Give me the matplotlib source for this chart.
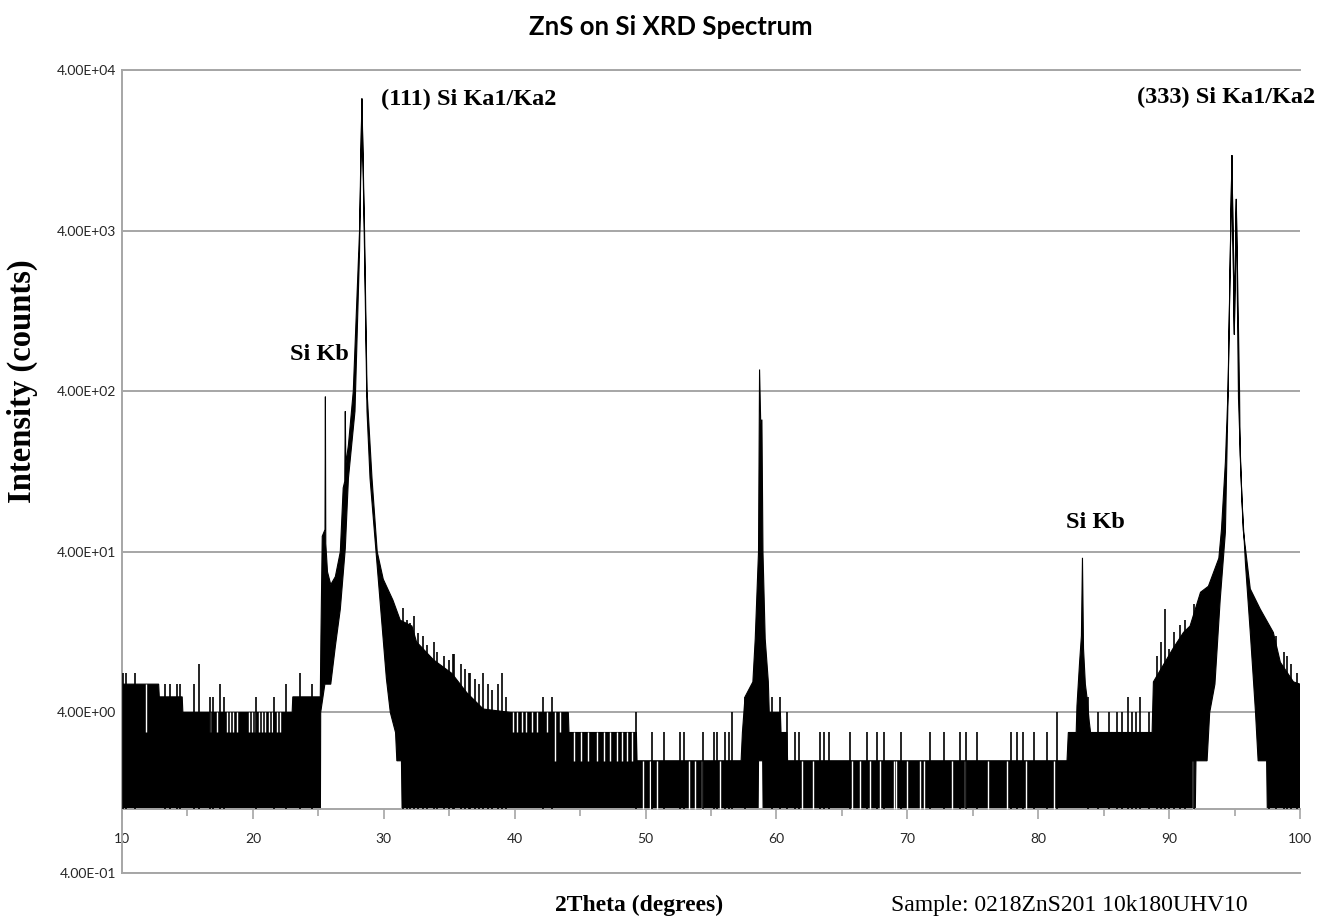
"""Recreate the ZnS on Si XRD spectrum (log intensity against 2theta)."""
import matplotlib

matplotlib.use("Agg")
import matplotlib.pyplot as plt
import numpy as np

SANS = ["Lato", "DejaVu Sans"]
SERIF = ["Liberation Serif", "DejaVu Serif"]
GRID = "#a6a6a6"

# upper envelope of the noisy trace (2theta in degrees, counts)
HI_X = [10.0, 12.8, 12.85, 14.6, 14.65, 23.0, 23.05, 25.15, 25.2, 25.3, 25.51,
        25.54, 25.57, 25.7, 25.95, 26.3, 26.68, 26.9, 27.02, 27.06, 27.1, 27.3,
        27.67, 28.15, 28.33, 28.53, 28.72, 29.1, 29.5, 29.96, 30.7, 31.26, 32.15,
        32.5, 33.8, 35.2, 36.35, 37.6, 39.7, 44.1, 44.15, 49.3, 49.35, 57.3,
        57.4, 57.6, 58.2, 58.38, 58.63, 58.71, 58.8, 58.89, 58.97, 59.14, 59.38,
        59.45, 60.3, 60.35, 60.8, 60.85, 82.2, 82.3, 82.9, 82.96, 83.16, 83.3,
        83.38, 83.46, 83.6, 83.72, 83.9, 84.0, 88.7, 88.8, 89.6, 90.3, 91.1,
        91.6, 92.4, 93.0, 93.8, 94.0, 94.3, 94.5, 94.8, 94.98, 95.13, 95.38,
        95.43, 95.66, 96.2, 96.96, 97.96, 98.5, 99.5, 100.0]
HI_Y = [6, 6, 5, 5, 4, 4, 5, 5, 12, 50, 55,
        370, 45, 30, 25, 28, 40, 100, 110, 300, 140, 185,
        400, 4000, 26600, 4000, 400, 115, 40, 27, 20, 15, 13.8,
        11, 8.5, 7, 5.3, 4.2, 4, 4, 3, 3, 2, 2,
        3, 5, 6.2, 11.5, 40, 546, 250, 266, 40, 11.5, 6.2,
        4, 4, 3, 3, 2, 2, 3, 3, 4.4, 8.2, 12,
        36.7, 10, 6, 5, 3.5, 3, 3, 6.2, 8, 10, 12.6,
        13.8, 22.4, 24.4, 36.5, 55, 145, 400, 11800, 900, 6300, 400,
        160, 55, 23.5, 17.6, 12.6, 8.2, 6.2, 6]

# lower envelope of the noisy trace
LO_X = [10.0, 25.16, 25.18, 25.5, 25.95, 26.3, 26.68, 27.06, 27.3, 27.8, 28.15,
        28.33, 28.53, 28.72, 28.95, 30.2, 30.5, 30.9, 31.0, 31.35, 31.4, 58.6,
        58.63, 58.95, 58.98, 92.0, 92.05, 92.9, 93.1, 93.5, 93.9, 94.3, 94.5,
        94.8, 94.98, 95.13, 95.3, 95.56, 95.84, 96.2, 96.45, 96.6, 96.8, 97.45,
        97.5, 100.0]
LO_Y = [1, 1, 4, 6, 6, 10.3, 17.6, 42, 115, 300, 3000,
        26600, 3000, 300, 115, 6.5, 4, 3, 2, 2, 1, 1,
        2, 2, 1, 1, 2, 2, 4, 6, 20, 53, 360,
        11800, 900, 6300, 360, 86, 33, 12.6, 6.2, 4, 2, 2,
        1, 1]

# single-channel spikes standing above the envelope
SPIKE_X = [10.1, 10.3, 11.0, 13.3, 13.7, 14.2, 14.45, 15.47, 15.85, 16.7, 16.95,
           17.45, 17.76, 20.2, 21.6, 22.5, 23.57, 24.5,
           31.5, 31.8, 32.0, 32.3, 32.6, 33.0, 33.3, 33.8,
           34.1, 34.6, 35.0, 35.3, 35.4, 35.9, 36.2, 36.5, 36.6, 37.0, 37.3,
           37.6, 38.0, 38.3, 38.7, 39.0, 39.3, 42.2, 42.85,
           49.27, 50.5, 51.4, 52.65, 52.9, 54.4, 55.2, 55.45, 56.1, 56.35, 56.6,
           57.6,
           59.66, 60.3, 60.8, 61.4, 61.7, 63.35, 63.6, 64.0, 65.6, 66.9, 67.7,
           68.2, 69.5, 71.7, 72.8, 74.05, 74.5, 75.3, 77.9, 78.4, 78.8, 79.7,
           80.7, 81.4,
           83.8, 84.6, 85.4, 86.05, 86.4, 86.85, 87.2, 87.5, 87.74, 88.5,
           89.1, 89.4, 89.7, 90.0, 90.4, 90.8, 91.2, 91.9,
           97.6, 98.2, 98.8, 99.0, 99.3, 99.8]
SPIKE_Y = [7, 7, 7, 6, 6, 6, 6, 6, 8, 5, 5,
           6, 5, 5, 5, 6, 7, 6,
           18, 15, 14.5, 16, 12.5, 12, 10.5, 11,
           9.5, 9, 8.5, 9.3, 9.3, 8, 7.5, 7, 7, 6.5, 6,
           7, 6, 5.5, 6, 7, 5, 5, 5,
           4, 3, 3, 3, 3, 3, 3, 3, 3, 3, 4,
           5,
           5, 5, 4, 3, 3, 3, 3, 3, 3, 3, 3,
           3, 3, 3, 3, 3, 3, 3, 3, 3, 3, 3,
           3, 4,
           5, 4, 4, 4, 4, 5, 4, 4, 5, 4,
           9, 11, 17.6, 10, 12.6, 14, 15, 19,
           14, 12, 9.5, 9, 8, 7]

# channels where the trace dips below the envelope (white notches)
GAP_X = [11.8, 16.75, 17.25, 18.02, 18.27, 18.5, 18.78, 19.67, 19.93, 20.18,
         20.43, 20.69, 20.95, 21.2, 21.46, 21.84, 22.1,
         39.9, 40.2, 40.55, 40.9, 41.3, 41.7, 42.5, 43.1, 43.5,
         44.5, 45.1, 45.6, 46.3, 46.8, 47.25, 47.8, 48.2, 48.6, 48.96,
         49.8, 50.35, 50.9, 53.3, 53.8, 54.3, 55.7,
         61.95, 62.8, 65.8, 66.4, 67.15, 67.9, 68.95, 69.1, 70.0, 71.0, 71.25,
         73.4, 74.4, 76.2, 77.6, 79.1, 81.2, 91.8]
GAP_LO = [3, 3, 3, 3, 3, 3, 3, 3, 3, 3,
          3, 3, 3, 3, 3, 3, 3,
          3, 3, 3, 3, 3, 3, 3, 2, 3,
          2, 2, 2, 2, 2, 2, 2, 2, 2, 2,
          1, 1, 1, 1, 1, 1, 1,
          1, 1, 1, 1, 1, 1, 1, 1, 1, 1, 1,
          1, 1, 1, 1, 1, 1, 1]
GAP_HI = [6, 4, 4, 4, 4, 4, 4, 4, 4, 4,
          4, 4, 4, 4, 4, 4, 4,
          4, 4, 4, 4, 4, 4, 4, 4, 4,
          3, 3, 3, 3, 3, 3, 3, 3, 3, 3,
          2, 2, 2, 2, 2, 2, 2,
          2, 2, 2, 2, 2, 2, 2, 2, 2, 2, 2,
          2, 2, 2, 2, 2, 2, 2]

Y_TICKS = [0.4, 4, 40, 400, 4000, 40000]
Y_TICK_LABELS = ["4.00E-01", "4.00E+00", "4.00E+01", "4.00E+02", "4.00E+03", "4.00E+04"]
X_TICKS = [10, 20, 30, 40, 50, 60, 70, 80, 90, 100]
X_MINOR = [15, 25, 35, 45, 55, 65, 75, 85, 95]
PEAK_LABELS = ["(111) Si Ka1/Ka2", "Si Kb", "(333) Si Ka1/Ka2", "Si Kb"]


def plot(out_path: str) -> None:
    """Draw the spectrum on a log intensity axis and save it."""
    fig = plt.figure(figsize=(13.26, 9.22), dpi=100)
    ax = fig.add_axes([0.0920, 0.0531, 0.8884, 0.8710])
    ax.set_yscale("log")
    ax.set_xlim(10, 100)
    ax.set_ylim(0.4, 40000)

    # the trace: band between envelopes, then notches and spikes on top
    xs = np.concatenate([HI_X, LO_X[::-1]])
    ys = np.concatenate([HI_Y, LO_Y[::-1]])
    ax.fill(xs, ys, facecolor="black", edgecolor="black", linewidth=0.8, zorder=2)
    ax.vlines(GAP_X, GAP_LO, GAP_HI, colors="white", linewidth=1.0, zorder=3)
    ax.vlines(SPIKE_X, 1, SPIKE_Y, colors="black", linewidth=1.2, zorder=4)

    # axes styling
    ax.set_yticks(Y_TICKS, Y_TICK_LABELS)
    ax.yaxis.set_minor_locator(matplotlib.ticker.NullLocator())
    ax.set_xticks(X_TICKS, [str(t) for t in X_TICKS])
    ax.set_xticks(X_MINOR, minor=True)
    ax.grid(axis="y", which="major", color=GRID, linewidth=1.4)
    ax.set_axisbelow(True)
    ax.axhline(0.4, color=GRID, linewidth=1.4, clip_on=False, zorder=1)
    ax.spines["right"].set_visible(False)
    ax.spines["top"].set_color(GRID)
    ax.spines["top"].set_linewidth(1.4)
    ax.spines["left"].set_color(GRID)
    ax.spines["left"].set_linewidth(1.4)
    ax.spines["bottom"].set_position(("data", 1))
    ax.spines["bottom"].set_color(GRID)
    ax.spines["bottom"].set_linewidth(1.4)
    ax.tick_params(axis="y", length=0, pad=4, labelsize=10, labelcolor="#262626")
    ax.tick_params(axis="x", which="major", length=7, width=1.2, color=GRID,
                   pad=10, labelsize=10, labelcolor="#262626")
    ax.tick_params(axis="x", which="minor", length=5, width=1.2, color=GRID)
    for lab in ax.get_xticklabels() + ax.get_yticklabels():
        lab.set_fontfamily(SANS)

    ax.set_xlabel("2Theta (degrees)", fontfamily=SERIF, fontweight="bold", fontsize=17)
    ax.xaxis.set_label_coords(0.4389, -0.0398)
    ax.xaxis.label.set_va("center")
    ax.set_ylabel("Intensity (counts)", fontfamily=SERIF, fontweight="bold", fontsize=23.5)
    ax.yaxis.set_label_coords(-0.0849, 0.6127)
    ax.yaxis.label.set_va("center")

    # peak labels
    label_pos = [(29.8, 26080), (22.86, 674), (87.56, 26860), (82.14, 61)]
    for text, (lx, ly) in zip(PEAK_LABELS, label_pos):
        ax.text(lx, ly, text, ha="left", va="center", fontfamily=SERIF,
                fontweight="bold", fontsize=17.5, zorder=5)

    ax.text(0.6528, -0.0398, "Sample: 0218ZnS201 10k180UHV10", transform=ax.transAxes,
            ha="left", va="center", fontfamily=SERIF, fontsize=17)
    fig.text(0.506, 0.9707, "ZnS on Si XRD Spectrum", ha="center", va="center",
             fontfamily=SANS, fontweight="bold", fontsize=18.5)

    fig.savefig(out_path, dpi=100)
    plt.close(fig)


def main() -> None:
    plot("out.png")


if __name__ == "__main__":
    main()
